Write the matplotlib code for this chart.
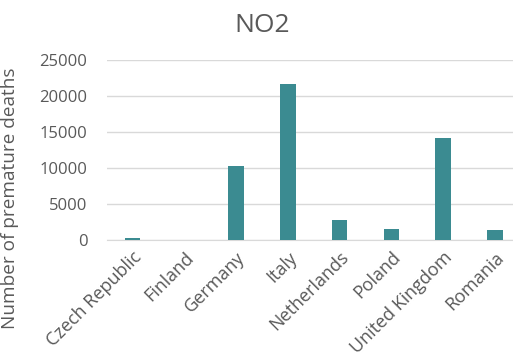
import matplotlib
import matplotlib.pyplot as plt
from matplotlib.transforms import ScaledTranslation

matplotlib.use("Agg")

countries = ["Czech Republic", "Finland", "Germany", "Italy",
             "Netherlands", "Poland", "United Kingdom", "Romania"]
deaths = [280, 20, 10340, 21660, 2780, 1530, 14100, 1390]
y_ticks = [0, 5000, 10000, 15000, 20000, 25000]

plt.rcParams["font.family"] = ["Open Sans", "DejaVu Sans"]
text_grey = "#595959"

fig = plt.figure(figsize=(5.13, 3.58), dpi=100)
# plot area runs a little past the right edge, as in the original
ax = fig.add_axes([106.7 / 513, 1 - 240 / 358, 414 / 513, 180 / 358])

x = list(range(len(countries)))
ax.bar(x, deaths, width=0.3, color="#3b8b91", zorder=3)

ax.set_xlim(-0.5, len(countries) - 0.5)
ax.set_ylim(0, 25000)
ax.set_yticks(y_ticks)
ax.set_yticklabels([str(t) for t in y_ticks])
ax.yaxis.grid(True, color="#d9d9d9", linewidth=1, zorder=0)
ax.set_xticks(x)
ax.set_xticklabels(countries, rotation=45, ha="right", rotation_mode="anchor")

# nudge the slanted labels right and down
shift = ScaledTranslation(6 / 100, -6 / 100, fig.dpi_scale_trans)
for lbl in ax.get_xticklabels():
    lbl.set_transform(lbl.get_transform() + shift)

for side in ["top", "right", "left"]:
    ax.spines[side].set_visible(False)
ax.spines["bottom"].set_color("#d9d9d9")
ax.tick_params(axis="y", length=0, colors=text_grey, labelsize=12, pad=14)
ax.tick_params(axis="x", length=0, colors=text_grey, labelsize=13, pad=6)

ax.set_ylabel("Number of premature deaths", color=text_grey, fontsize=13.7)
ax.yaxis.set_label_coords(-88 / 414, (240 - 198) / 180)
fig.text(262 / 513, 1 - 32 / 358, "NO2", color=text_grey, fontsize=19,
         ha="center", va="baseline")

plt.savefig("out.png", dpi=100)
plt.close(fig)
